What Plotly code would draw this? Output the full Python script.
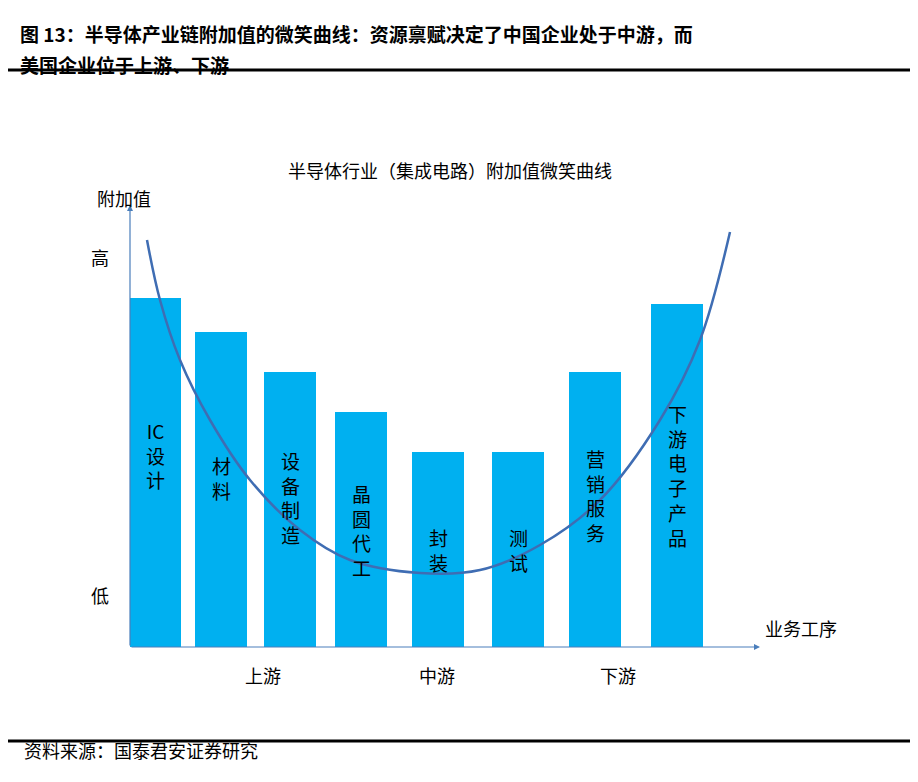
import plotly.graph_objects as go

W, H = 918, 782
OFF = 8  # page body margin
L, R, T, B = 122, 166, 197, 143

# bar data (centre position on the process axis, value = added value)
stages = ["IC<br>设<br>计", "材<br>料", "设<br>备<br>制<br>造", "晶<br>圆<br>代<br>工",
          "封<br>装", "测<br>试", "营<br>销<br>服<br>务", "下<br>游<br>电<br>子<br>产<br>品"]
centers = [155, 221, 290, 361, 438, 518, 595, 677]
values = [349, 315, 275, 235, 195, 195, 275, 343]
label_y = [192, 169, 150, 117, 97, 97, 152, 172]

# smile curve
curve_x = [147, 160, 180, 210, 250, 300, 350, 420, 480, 540, 600, 660, 700, 730]
curve_y = [407, 347, 287, 227, 167, 117, 87, 74, 77, 102, 147, 227, 307, 415]

groups = ["上游", "中游", "下游"]
group_x = [243, 437, 638]

FONT = "Noto Sans CJK SC"


def px(x):
    return (x - OFF - L) / (W - L - R)


def py(y):
    return (H - B - (y - OFF)) / (H - T - B)


fig = go.Figure()
fig.add_trace(go.Bar(x=centers, y=values, width=52, marker=dict(color="#00B0F0", line=dict(width=0)),
                     hoverinfo="skip"))
fig.add_trace(go.Scatter(x=curve_x, y=curve_y, mode="lines", line=dict(color="#3F6DB3", width=2.5, shape="spline"),
                         hoverinfo="skip"))

ann = []
for s, cx, ly in zip(stages, centers, label_y):
    ann.append(dict(x=cx, y=ly, text=s, showarrow=False, font=dict(size=19, color="black")))
for g, gx in zip(groups, group_x):
    ann.append(dict(x=px(gx), y=py(690), xref="paper", yref="paper", text=g, showarrow=False,
                    font=dict(size=18, color="black")))
# axis arrows
ann.append(dict(x=0, y=1, xref="paper", yref="paper", ax=0, ay=442,
                showarrow=True, arrowhead=2, arrowsize=1, arrowwidth=1.2, arrowcolor="#4A7EBB", text=""))
ann.append(dict(x=1, y=0, xref="paper", yref="paper", ax=-630, ay=0,
                showarrow=True, arrowhead=2, arrowsize=1, arrowwidth=1.2, arrowcolor="#4A7EBB", text=""))
texts = [
    ("半导体行业（集成电路）附加值微笑曲线", 450, 155, 18, "center"),
    ("附加值", 95, 183, 18, "left"),
    ("高", 100, 242, 18, "center"),
    ("低", 100, 610, 18, "center"),
    ("业务工序", 763, 643, 18, "left"),
]
for t, x, y, s, a in texts:
    ann.append(dict(x=px(x), y=py(y), xref="paper", yref="paper", text=t, showarrow=False,
                    xanchor=a, font=dict(size=s, color="black")))
header = ["<b>图 13：半导体产业链附加值的微笑曲线：资源禀赋决定了中国企业处于中游，而</b>",
          "<b>美国企业位于上游、下游</b>"]
for t, y in zip(header, [18, 49]):
    ann.append(dict(x=px(18), y=py(y), xref="paper", yref="paper", xanchor="left", showarrow=False,
                    text=t, font=dict(size=19, color="black")))
ann.append(dict(x=px(22), y=py(765), xref="paper", yref="paper", xanchor="left", showarrow=False,
                text="资料来源：国泰君安证券研究", font=dict(size=18, color="black")))

shapes = [
    dict(type="line", xref="paper", yref="paper", x0=px(0), x1=px(910), y0=py(70), y1=py(70),
         line=dict(color="black", width=3)),
    dict(type="line", xref="paper", yref="paper", x0=px(0), x1=px(910), y0=py(741), y1=py(741),
         line=dict(color="black", width=3)),
]

fig.update_layout(
    width=W, height=H, margin=dict(l=L, r=R, t=T, b=B), showlegend=False,
    paper_bgcolor="white", plot_bgcolor="white", font=dict(family=FONT),
    xaxis=dict(range=[130, 760], visible=False, fixedrange=True),
    yaxis=dict(range=[0, 442], visible=False, fixedrange=True),
    annotations=ann, shapes=shapes,
)
fig.write_html("out.html")
